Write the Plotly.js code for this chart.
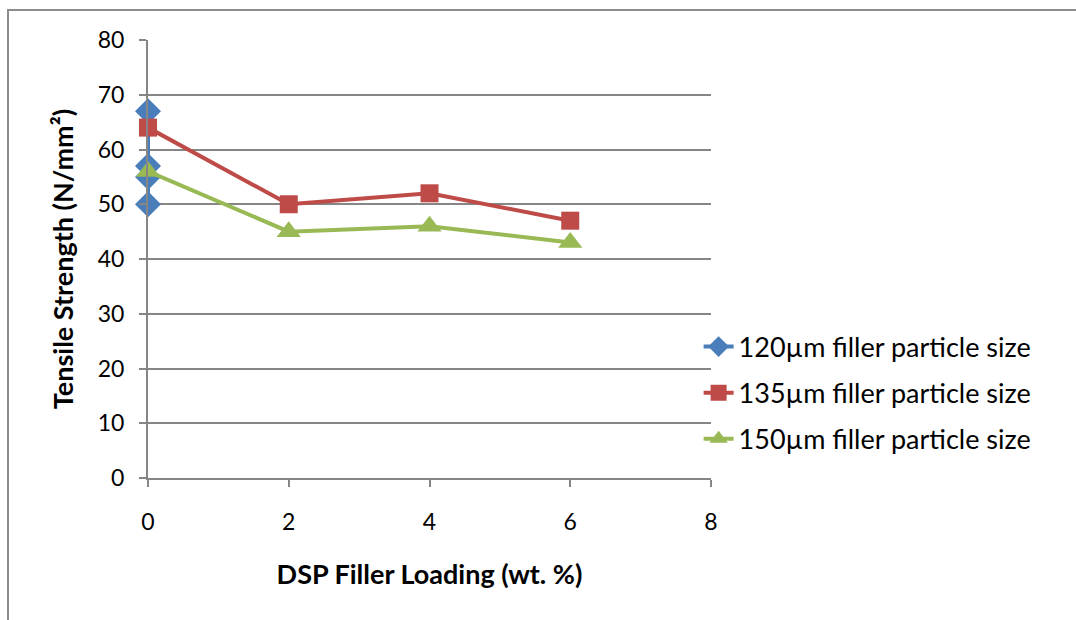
<!DOCTYPE html>
<html>
<head>
<meta charset="utf-8">
<script src="https://cdn.plot.ly/plotly-3.0.1.min.js"></script>
<style>
  html, body { margin: 0; padding: 0; background: #fff; }
  #frame { position: absolute; left: 7px; top: 9px; width: 1200px; height: 800px;
           border-left: 2px solid #8c8c8c; border-top: 2px solid #8c8c8c; }
  #chart { position: absolute; left: 0; top: 0; width: 1076px; height: 620px; }
</style>
</head>
<body>
<div id="frame"></div>
<div id="chart"></div>
<script>
// Data
const seriesNames = ["120µm filler particle size", "135µm filler particle size", "150µm filler particle size"];
const x120 = [0, 0, 0, 0];
const y120 = [67, 57, 55, 50];
const x135 = [0, 2, 4, 6];
const y135 = [64, 50, 52, 47];
const x150 = [0, 2, 4, 6];
const y150 = [56, 45, 46, 43];
const xTicks = [0, 2, 4, 6, 8];
const yTicks = [0, 10, 20, 30, 40, 50, 60, 70, 80];

const FONT = "Lato, 'Open Sans', sans-serif";
const colors = ["#4A7EBB", "#BE4B48", "#98B954"];

const traces = [
  { x: x120, y: y120, name: seriesNames[0], legendgroup: "a", mode: "lines+markers",
    cliponaxis: false,
    line: { color: colors[0], width: 4 },
    marker: { symbol: "diamond", size: 20, color: colors[0] } },
  { x: x135, y: y135, name: seriesNames[1], legendgroup: "b", mode: "lines+markers",
    cliponaxis: false,
    line: { color: colors[1], width: 4 },
    marker: { symbol: "square", size: 18, color: colors[1] } },
  { x: x150, y: y150, name: seriesNames[2], legendgroup: "c", mode: "lines+markers",
    cliponaxis: false,
    line: { color: colors[2], width: 4 },
    marker: { symbol: "triangle-up", size: 21, color: colors[2] } }
];

const layout = {
  width: 1076, height: 620,
  margin: { l: 148, r: 365, t: 40, b: 142 },
  paper_bgcolor: "rgba(0,0,0,0)",
  plot_bgcolor: "rgba(0,0,0,0)",
  font: { family: FONT, size: 23, color: "#000" },
  showlegend: true,
  legend: {
    x: 0.978, y: 0.355, xanchor: "left", yanchor: "top",
    bgcolor: "rgba(0,0,0,0)",
    font: { family: FONT, size: 27, color: "#000" },
    tracegroupgap: 8,
    itemwidth: 30
  },
  xaxis: {
    range: [0, 8], tickvals: xTicks, ticktext: xTicks.map(String),
    showgrid: false, zeroline: false,
    showline: true, linecolor: "#868686", linewidth: 2,
    ticks: "outside", ticklen: 7, tickcolor: "#868686", tickwidth: 2,
    ticklabelstandoff: 15,
    tickfont: { family: FONT, size: 23 },
    title: { text: "<b>DSP Filler Loading (wt. %)</b>", font: { family: FONT, size: 27 }, standoff: 32 }
  },
  yaxis: {
    range: [0, 80], tickvals: yTicks, ticktext: yTicks.map(String),
    showgrid: true, gridcolor: "#868686", gridwidth: 2,
    zeroline: false,
    showline: true, linecolor: "#868686", linewidth: 2,
    ticks: "outside", ticklen: 7, tickcolor: "#868686", tickwidth: 2,
    ticklabelstandoff: 10,
    tickfont: { family: FONT, size: 23 },
    title: { text: "<b>Tensile Strength (N/mm²)</b>", font: { family: FONT, size: 27 }, standoff: 16 }
  }
};

Plotly.newPlot("chart", traces, layout, { displayModeBar: false, staticPlot: true });
</script>
</body>
</html>
